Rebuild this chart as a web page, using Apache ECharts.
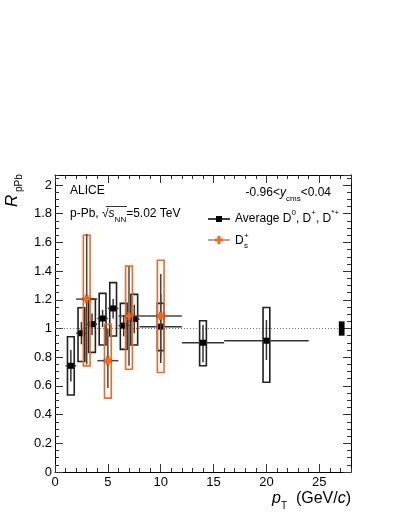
<!DOCTYPE html>
<html>
<head>
<meta charset="UTF-8">
<title>RpPb D mesons</title>
<script src="https://cdn.jsdelivr.net/npm/echarts@6/dist/echarts.min.js"></script>
<style>
html, body { margin: 0; padding: 0; background: #fff; }
#chart { width: 399px; height: 516px; }
</style>
</head>
<body>
<div id="chart"></div>
<script>
// Average D0, D+, D*+
var ptD = [1.5, 2.5, 3.5, 4.5, 5.5, 6.5, 7.5, 10, 14, 20];
var ptLoD = [1, 2, 3, 4, 5, 6, 7, 8, 12, 16];
var ptHiD = [2, 3, 4, 5, 6, 7, 8, 12, 16, 24];
var rD = [0.74, 0.967, 1.03, 1.07, 1.14, 1.02, 1.066, 1.013, 0.901, 0.915];
var statLoD = [0.63, 0.89, 0.955, 1.01, 1.07, 0.945, 0.967, 0.76, 0.765, 0.78];
var statHiD = [0.85, 1.045, 1.105, 1.13, 1.205, 1.094, 1.165, 1.24, 1.024, 1.059];
var systLoD = [0.537, 0.77, 0.834, 0.885, 0.948, 0.855, 0.885, 0.846, 0.741, 0.626];
var systHiD = [0.943, 1.145, 1.205, 1.245, 1.32, 1.175, 1.238, 1.175, 1.054, 1.147];

// Ds+
var ptS = [3, 5, 7, 10];
var ptLoS = [2, 4, 6, 8];
var ptHiS = [4, 6, 8, 12];
var rS = [1.205, 0.776, 1.087, 1.087];
var statLoS = [0.75, 0.585, 0.74, 0.80];
var statHiS = [1.66, 1.0, 1.43, 1.38];
var systLoS = [0.74, 0.515, 0.716, 0.693];
var systHiS = [1.65, 1.03, 1.435, 1.476];

// normalisation uncertainty box
var normPt = [27.12];
var normUnc = [0.05];

// reference line at 1
var refLineX = [0, 26.8];
var refLineY = 1;

var FONT = "'Liberation Sans', Arial, sans-serif";
var ORANGE = '#f26a22';
var BOX_HW = 0.32;

function rows(pt, y, lo, hi, sLo, sHi, bLo, bHi) {
  var out = [];
  for (var i = 0; i < pt.length; i++) {
    out.push([pt[i], y[i], lo[i], hi[i], sLo[i], sHi[i], bLo[i], bHi[i]]);
  }
  return out;
}

function squareMarker(c) {
  return { type: 'rect', shape: { x: c[0] - 3, y: c[1] - 3, width: 6, height: 6 }, style: { fill: '#000' } };
}

function crossMarker(c) {
  var a = 4, t = 1.5, x = c[0], y = c[1];
  return {
    type: 'polygon',
    shape: { points: [
      [x - t, y - a], [x + t, y - a], [x + t, y - t], [x + a, y - t], [x + a, y + t], [x + t, y + t],
      [x + t, y + a], [x - t, y + a], [x - t, y + t], [x - a, y + t], [x - a, y - t], [x - t, y - t]
    ] },
    style: { fill: ORANGE, stroke: '#a04010', lineWidth: 0.5 }
  };
}

function errorBars(boxColor, barColor, marker) {
  return function (params, api) {
    var x = api.value(0), y = api.value(1);
    var c = api.coord([x, y]);
    var l = api.coord([api.value(2), y]);
    var r = api.coord([api.value(3), y]);
    var sLo = api.coord([x, api.value(4)]);
    var sHi = api.coord([x, api.value(5)]);
    var tl = api.coord([x - BOX_HW, api.value(7)]);
    var br = api.coord([x + BOX_HW, api.value(6)]);
    return {
      type: 'group',
      children: [
        { type: 'rect', shape: { x: tl[0], y: tl[1], width: br[0] - tl[0], height: br[1] - tl[1] },
          style: { fill: 'none', stroke: boxColor, lineWidth: 1.6 } },
        { type: 'line', shape: { x1: l[0], y1: c[1], x2: r[0], y2: c[1] }, style: { stroke: barColor, lineWidth: 1.5 } },
        { type: 'line', shape: { x1: c[0], y1: sLo[1], x2: c[0], y2: sHi[1] }, style: { stroke: barColor, lineWidth: 1.5 } },
        marker(c)
      ]
    };
  };
}

function normBox(params, api) {
  var x = api.value(0), u = api.value(1);
  var tl = api.coord([x - 0.27, refLineY + u]);
  var br = api.coord([x + 0.27, refLineY - u]);
  return { type: 'rect', shape: { x: tl[0], y: tl[1], width: br[0] - tl[0], height: br[1] - tl[1] }, style: { fill: '#000' } };
}

function frameAxis(grid, pos, min, max, step, len, labels) {
  return {
    type: 'value', gridIndex: grid, position: pos, min: min, max: max, interval: step,
    axisLine: { show: grid === 0, onZero: false, lineStyle: { color: '#000', width: 1 } },
    axisTick: { show: true, inside: true, length: len, lineStyle: { color: '#333', width: 1 } },
    axisLabel: { show: labels, margin: pos === 'left' ? 3 : 4, fontSize: 13, fontFamily: FONT, color: '#000', showMaxLabel: false },
    splitLine: { show: false }
  };
}

var chart = echarts.init(document.getElementById('chart'));

var gridBox = { left: 55, top: 175, width: 296, height: 297 };

var option = {
  animation: false,
  backgroundColor: '#fff',
  grid: [
    Object.assign({}, gridBox),
    Object.assign({}, gridBox)
  ],
  xAxis: [
    frameAxis(0, 'bottom', 0, 28, 5, 8, true),
    frameAxis(0, 'top', 0, 28, 5, 8, false),
    frameAxis(1, 'bottom', 0, 28, 1, 4, false),
    frameAxis(1, 'top', 0, 28, 1, 4, false)
  ],
  yAxis: [
    frameAxis(0, 'left', 0, 2.07, 0.2, 8, true),
    frameAxis(0, 'right', 0, 2.07, 0.2, 8, false),
    frameAxis(1, 'left', 0, 2.07, 0.05, 4, false),
    frameAxis(1, 'right', 0, 2.07, 0.05, 4, false)
  ],
  series: [
    {
      type: 'line', xAxisIndex: 0, yAxisIndex: 0, symbol: 'none', z: 1,
      data: refLineX.map(function (x) { return [x, refLineY]; }),
      lineStyle: { color: '#777', width: 1, type: [1, 2] }
    },
    {
      type: 'custom', xAxisIndex: 0, yAxisIndex: 0, z: 2,
      renderItem: normBox,
      data: normPt.map(function (x, i) { return [x, normUnc[i]]; })
    },
    {
      type: 'custom', xAxisIndex: 0, yAxisIndex: 0, z: 3,
      renderItem: errorBars('#222', '#333', squareMarker),
      encode: { x: 0, y: 1 },
      data: rows(ptD, rD, ptLoD, ptHiD, statLoD, statHiD, systLoD, systHiD)
    },
    {
      type: 'custom', xAxisIndex: 0, yAxisIndex: 0, z: 4,
      renderItem: errorBars(ORANGE, '#444', crossMarker),
      encode: { x: 0, y: 1 },
      data: rows(ptS, rS, ptLoS, ptHiS, statLoS, statHiS, systLoS, systHiS)
    }
  ],
  graphic: [
    // y title
    {
      type: 'group', x: 12, y: 207, rotation: Math.PI / 2,
      children: [
        { type: 'text', x: 0, y: 0, style: { text: 'R', font: 'italic 17px ' + FONT, fill: '#000', align: 'left', verticalAlign: 'middle' } },
        { type: 'text', x: 15, y: 7, style: { text: 'pPb', font: '10px ' + FONT, fill: '#000', align: 'left', verticalAlign: 'middle' } }
      ]
    },
    // x title
    {
      type: 'text', x: 351, y: 499,
      style: {
        text: '{i|p}{s|T}{n|  (GeV/}{i|c}{n|)}', align: 'right', verticalAlign: 'middle',
        rich: {
          n: { fontSize: 16, fontFamily: FONT, fill: '#000', lineHeight: 24 },
          i: { fontSize: 16, fontFamily: FONT, fontStyle: 'italic', fill: '#000', lineHeight: 24 },
          s: { fontSize: 10, fontFamily: FONT, fill: '#000', lineHeight: 10, verticalAlign: 'bottom' }
        }
      }
    },
    { type: 'text', x: 70, y: 191, style: { text: 'ALICE', font: '12px ' + FONT, fill: '#000', align: 'left', verticalAlign: 'middle' } },
    {
      type: 'text', x: 70, y: 214,
      style: {
        text: '{n|p-Pb, \u221A}{i|s}{s|NN}{n|=5.02 TeV}', align: 'left', verticalAlign: 'middle',
        rich: {
          n: { fontSize: 12, fontFamily: FONT, fill: '#000', lineHeight: 20 },
          i: { fontSize: 12, fontFamily: FONT, fontStyle: 'italic', fill: '#000', lineHeight: 20 },
          s: { fontSize: 8, fontFamily: FONT, fill: '#000', lineHeight: 12, verticalAlign: 'bottom' }
        }
      }
    },
    { type: 'line', shape: { x1: 106, y1: 206.5, x2: 127, y2: 206.5 }, style: { stroke: '#000', lineWidth: 0.8 } },
    {
      type: 'text', x: 331, y: 193,
      style: {
        text: '{n|-0.96<}{i|y}{s|cms}{n|<0.04}', align: 'right', verticalAlign: 'middle',
        rich: {
          n: { fontSize: 12, fontFamily: FONT, fill: '#000', lineHeight: 20 },
          i: { fontSize: 12, fontFamily: FONT, fontStyle: 'italic', fill: '#000', lineHeight: 20 },
          s: { fontSize: 8, fontFamily: FONT, fill: '#000', lineHeight: 12, verticalAlign: 'bottom' }
        }
      }
    },
    // legend
    { type: 'line', shape: { x1: 208, y1: 219, x2: 230, y2: 219 }, style: { stroke: '#000', lineWidth: 1.5 } },
    { type: 'rect', shape: { x: 216, y: 216, width: 6, height: 6 }, style: { fill: '#000' } },
    {
      type: 'text', x: 235, y: 219,
      style: {
        text: '{n|Average D}{u|0}{n|, D}{u|+}{n|, D}{u|*+}', align: 'left', verticalAlign: 'middle',
        rich: {
          n: { fontSize: 12, fontFamily: FONT, fill: '#000', lineHeight: 20 },
          u: { fontSize: 8, fontFamily: FONT, fill: '#000', lineHeight: 13, verticalAlign: 'top' }
        }
      }
    },
    { type: 'line', shape: { x1: 208, y1: 240, x2: 230, y2: 240 }, style: { stroke: '#888', lineWidth: 1.5 } },
    {
      type: 'polygon',
      shape: { points: [[217.5, 236], [220.5, 236], [220.5, 238.5], [223, 238.5], [223, 241.5], [220.5, 241.5],
        [220.5, 244], [217.5, 244], [217.5, 241.5], [215, 241.5], [215, 238.5], [217.5, 238.5]] },
      style: { fill: ORANGE }
    },
    { type: 'text', x: 235, y: 241, style: { text: 'D', font: '12px ' + FONT, fill: '#000', align: 'left', verticalAlign: 'middle' } },
    { type: 'text', x: 244, y: 236, style: { text: '+', font: '8px ' + FONT, fill: '#000', align: 'left', verticalAlign: 'middle' } },
    { type: 'text', x: 244, y: 246, style: { text: 's', font: '8px ' + FONT, fill: '#000', align: 'left', verticalAlign: 'middle' } }
  ]
};

chart.setOption(option);
</script>
</body>
</html>
